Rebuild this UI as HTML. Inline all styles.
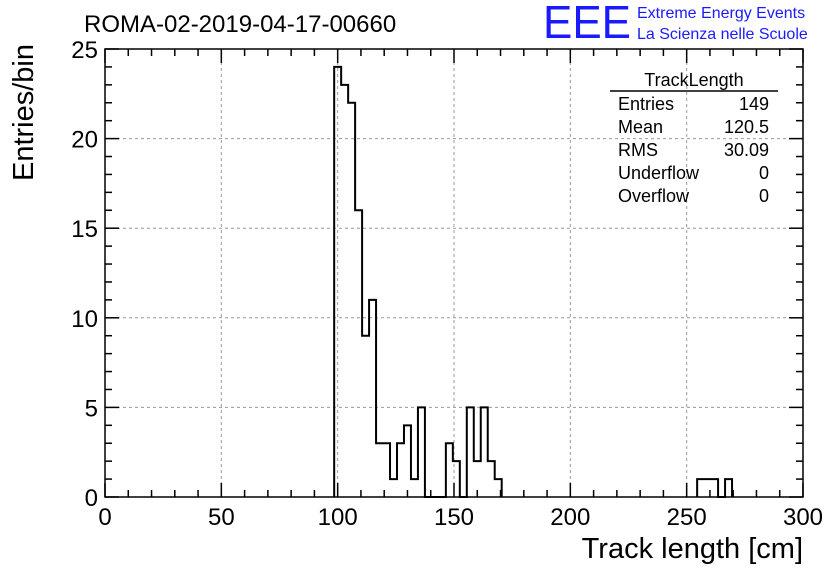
<!DOCTYPE html>
<html><head><meta charset="utf-8"><style>
body{margin:0;background:#fff;}
svg{display:block;font-family:"Liberation Sans",sans-serif;}
</style></head><body>
<svg id="c" width="836" height="572"></svg>
<script>
const binStart=98.5, binWidth=3;
const counts=[24,23,22,16,9,11,3,3,1,3,4,1,5,0,0,0,3,2,0,5,2,5,2,1];
const tailStart=254.5;
const tailCounts=[1,1,1,0,1];
const xTicks=[0,50,100,150,200,250,300];
const yTicks=[0,5,10,15,20,25];
const statLabels=["Entries","Mean","RMS","Underflow","Overflow"];
const statValues=["149","120.5","30.09","0","0"];

const NS="http://www.w3.org/2000/svg";
const svg=document.getElementById('c');
const X0=105,X1=803,Y0=497,Y1=49;
const sx=v=>X0+(v-0)*(X1-X0)/300;
const sy=v=>Y0-v*(Y0-Y1)/25;
function mk(t,a,p){const e=document.createElementNS(NS,t);for(const k in a)e.setAttribute(k,a[k]);(p||svg).appendChild(e);return e;}

const grid=mk('g',{});


xTicks.slice(1,-1).forEach(v=>mk('line',{x1:sx(v),x2:sx(v),y1:Y0,y2:Y1,stroke:'#999','stroke-dasharray':'3,3'},grid));
yTicks.slice(1,-1).forEach(v=>mk('line',{x1:X0,x2:X1,y1:sy(v),y2:sy(v),stroke:'#999','stroke-dasharray':'3,3'},grid));

function path(start,arr){
  let d=`M${sx(start)},${sy(0)}`;
  arr.forEach((c,i)=>{d+=`L${sx(start+i*binWidth)},${sy(c)}L${sx(start+(i+1)*binWidth)},${sy(c)}`;});
  d+=`L${sx(start+arr.length*binWidth)},${sy(0)}`;return d;}
const h1=mk('path',{d:path(binStart,counts),fill:'none',stroke:'#000','stroke-width':2});


const h2=mk('path',{d:path(tailStart,tailCounts),fill:'none',stroke:'#000','stroke-width':2});



const frame=mk('rect',{x:X0,y:Y1,width:X1-X0,height:Y0-Y1,fill:'none',stroke:'#000','stroke-width':1.5});



const ax=mk('g',{stroke:'#000','stroke-width':1.5});


for(let v=0;v<=300;v+=10){const L=v%50==0?14:7;
  mk('line',{x1:sx(v),x2:sx(v),y1:Y0,y2:Y0-L},ax);mk('line',{x1:sx(v),x2:sx(v),y1:Y1,y2:Y1+L},ax);}
for(let v=0;v<=25;v+=1){const L=v%5==0?14:7;
  mk('line',{x1:X0,x2:X0+L,y1:sy(v),y2:sy(v)},ax);mk('line',{x1:X1,x2:X1-L,y1:sy(v),y2:sy(v)},ax);}
xTicks.forEach(v=>{const t=mk('text',{x:sx(v),y:Y0+28,'text-anchor':'middle','font-size':24});t.textContent=v;
  });
yTicks.forEach(v=>{const t=mk('text',{x:X0-7,y:sy(v)+9,'text-anchor':'end','font-size':24});t.textContent=v;
  });

let t=mk('text',{x:803,y:558,'text-anchor':'end','font-size':29});t.textContent='Track length [cm]';

t=mk('text',{x:0,y:0,'text-anchor':'end','font-size':29,transform:'translate(33,44) rotate(-90)'});t.textContent='Entries/bin';

t=mk('text',{x:84,y:32,'font-size':24});t.textContent='ROMA-02-2019-04-17-00660';

t=mk('text',{x:543,y:38,'font-size':46,fill:'#1a1aff',textLength:88,lengthAdjust:'spacingAndGlyphs'});t.textContent='EEE';

t=mk('text',{x:637,y:18,'font-size':16,fill:'#1a1aff'});t.textContent='Extreme Energy Events';

t=mk('text',{x:637,y:39,'font-size':16,fill:'#1a1aff'});t.textContent='La Scienza nelle Scuole';


const st=mk('g',{});


let s=mk('text',{x:694,y:86,'text-anchor':'middle','font-size':18},st);s.textContent='TrackLength';
mk('line',{x1:610,x2:778,y1:91,y2:91,stroke:'#000','stroke-width':1.5},st);
statLabels.forEach((l,i)=>{let a=mk('text',{x:618,y:110+i*23,'font-size':18},st);a.textContent=l;
  let b=mk('text',{x:769,y:110+i*23,'text-anchor':'end','font-size':18},st);b.textContent=statValues[i];});
</script>
</body></html>
